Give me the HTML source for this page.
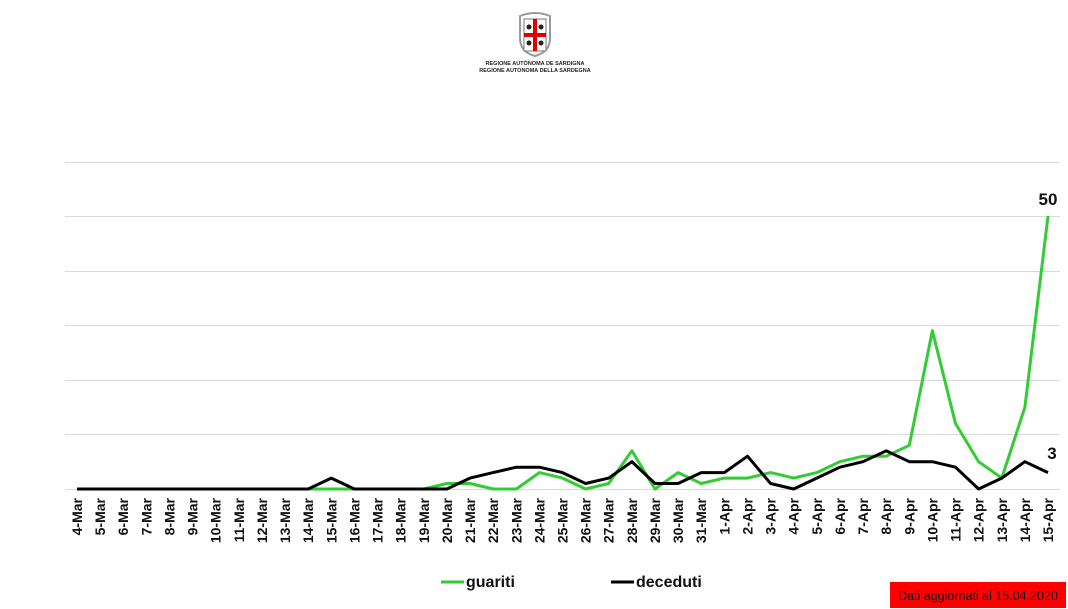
<!DOCTYPE html>
<html><head><meta charset="utf-8"><style>
html,body{margin:0;padding:0;background:#fff;}
svg{display:block;font-family:"Liberation Sans",sans-serif;}
</style></head><body>
<svg width="1068" height="609" viewBox="0 0 1068 609" xmlns="http://www.w3.org/2000/svg">
<g transform="translate(535,36)">
<path d="M-15,-20 Q0,-26 15,-20 L15,2 Q15,16 0,20 Q-15,16 -15,2 Z" fill="#fff" stroke="#999" stroke-width="2"/>
<rect x="-11" y="-17" width="22" height="32" fill="#fff" stroke="#777" stroke-width="1"/>
<rect x="-2" y="-17" width="4" height="32" fill="#d00"/>
<rect x="-11" y="-3" width="22" height="4" fill="#d00"/>
<circle cx="-6" cy="-9" r="2.5" fill="#222"/><circle cx="6" cy="-9" r="2.5" fill="#222"/>
<circle cx="-6" cy="7" r="2.5" fill="#222"/><circle cx="6" cy="7" r="2.5" fill="#222"/>
</g>
<text x="535" y="65" font-size="5.5" font-weight="bold" text-anchor="middle" fill="#222">REGIONE AUTÒNOMA DE SARDIGNA</text>
<text x="535" y="72" font-size="5.5" font-weight="bold" text-anchor="middle" fill="#222">REGIONE AUTONOMA DELLA SARDEGNA</text>
<g stroke="#d9d9d9" stroke-width="1">
<line x1="65" x2="1060" y1="162.5" y2="162.5"/>
<line x1="65" x2="1060" y1="216.5" y2="216.5"/>
<line x1="65" x2="1060" y1="271.5" y2="271.5"/>
<line x1="65" x2="1060" y1="325.5" y2="325.5"/>
<line x1="65" x2="1060" y1="380.5" y2="380.5"/>
<line x1="65" x2="1060" y1="434.5" y2="434.5"/>
<line x1="65" x2="1060" y1="489.5" y2="489.5"/>
</g>
<g id="plot"></g>
<g id="labels" font-size="14" font-weight="bold" fill="#111"></g>
<text x="1048" y="205" font-size="17" font-weight="bold" text-anchor="middle" fill="#111">50</text>
<text x="1052" y="459" font-size="17" font-weight="bold" text-anchor="middle" fill="#111">3</text>
<line x1="441" x2="464" y1="582" y2="582" stroke="#33cc33" stroke-width="3"/>
<text x="466" y="587" font-size="16" font-weight="bold" fill="#111">guariti</text>
<line x1="611" x2="634" y1="582" y2="582" stroke="#000" stroke-width="3"/>
<text x="636" y="587" font-size="16" font-weight="bold" fill="#111">deceduti</text>
<rect x="890" y="582" width="176" height="26" fill="#ff0000"/>
<text x="978" y="600" font-size="12.5" text-anchor="middle" fill="#111">Dati aggiornati al 15.04.2020</text>
<script>
var g=[0,0,0,0,0,0,0,0,0,0,0,0,0,0,0,0,1,1,0,0,3,2,0,1,7,0,3,1,2,2,3,2,3,5,6,6,8,29,12,5,2,15,50];
var d=[0,0,0,0,0,0,0,0,0,0,0,2,0,0,0,0,0,2,3,4,4,3,1,2,5,1,1,3,3,6,1,0,2,4,5,7,5,5,4,0,2,5,3];
var labs=[];for(var i=4;i<=31;i++)labs.push(i+"-Mar");for(var i=1;i<=15;i++)labs.push(i+"-Apr");
function X(i){return 77+i*(1048-77)/42;}function Y(v){return 489-v*5.46;}
function pts(a){return a.map(function(v,i){return X(i).toFixed(1)+","+Y(v).toFixed(1);}).join(" ");}
var ns="http://www.w3.org/2000/svg",p=document.getElementById("plot");
[[g,"#33cc33"],[d,"#000"]].forEach(function(s){var e=document.createElementNS(ns,"polyline");e.setAttribute("points",pts(s[0]));e.setAttribute("fill","none");e.setAttribute("stroke",s[1]);e.setAttribute("stroke-width","3");e.setAttribute("stroke-linejoin","round");p.appendChild(e);});
var L=document.getElementById("labels");
labs.forEach(function(t,i){var e=document.createElementNS(ns,"text");var x=X(i)+5;e.setAttribute("transform","translate("+x+",498) rotate(-90)");e.setAttribute("text-anchor","end");e.textContent=t;L.appendChild(e);});
</script>
</svg>
</body></html>
